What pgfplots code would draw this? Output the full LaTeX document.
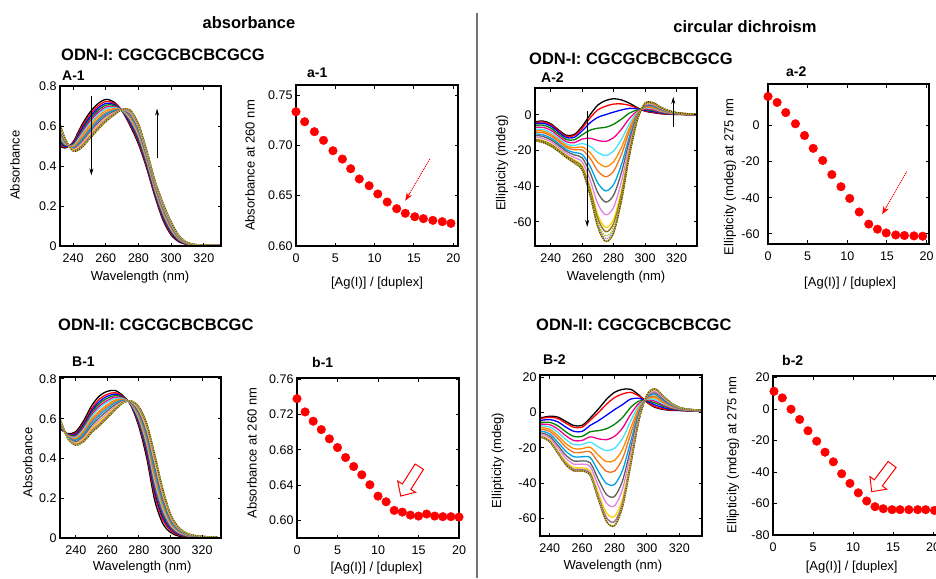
\documentclass[border=0pt]{standalone}
\usepackage{fontspec}
\setmainfont{Liberation Sans}
\usepackage{pgfplots}
\pgfplotsset{compat=1.18}
\usepackage{pgfplotstable}
\usetikzlibrary{arrows.meta}

\definecolor{cR}{RGB}{255,0,0}
\definecolor{cB}{RGB}{0,0,255}
\definecolor{cG}{RGB}{0,128,0}
\definecolor{cP}{RGB}{240,0,140}
\definecolor{cC}{RGB}{70,225,255}
\definecolor{cO}{RGB}{255,140,0}
\definecolor{cOt}{RGB}{240,115,25}
\definecolor{cS}{RGB}{0,160,230}
\definecolor{cGr}{RGB}{96,96,96}
\definecolor{cV}{RGB}{225,130,225}
\definecolor{cY}{RGB}{255,210,0}
\definecolor{cOl}{RGB}{140,110,30}
\definecolor{cL}{RGB}{150,215,30}
\definecolor{cPu}{RGB}{170,120,220}
\definecolor{cBr}{RGB}{128,0,0}

\pgfplotscreateplotcyclelist{spec}{
{black},{cR},{cB},{cG},{cP},{cC},{cO},{cOt},{cS},{cGr},{cV},{cY},{cOl},{cL,densely dotted},{cPu,densely dotted},{cBr}}

% UV spectra, ODN-I (A-1)
\pgfplotstableread{
wl c0 c1 c2 c3 c4 c5 c6 c7 c8 c9 c10 c11 c12 c13
230 0.510 0.524 0.537 0.549 0.563 0.573 0.587 0.600 0.609 0.621 0.632 0.641 0.650 0.660
235 0.490 0.495 0.499 0.503 0.508 0.511 0.516 0.520 0.523 0.527 0.531 0.534 0.537 0.540
240 0.520 0.516 0.512 0.508 0.504 0.501 0.497 0.493 0.490 0.487 0.484 0.481 0.478 0.475
245 0.600 0.590 0.580 0.571 0.562 0.554 0.544 0.534 0.527 0.519 0.511 0.504 0.498 0.490
250 0.665 0.653 0.642 0.631 0.620 0.610 0.599 0.587 0.579 0.569 0.560 0.552 0.544 0.535
255 0.710 0.698 0.687 0.676 0.665 0.655 0.644 0.632 0.624 0.614 0.605 0.597 0.589 0.580
260 0.733 0.723 0.713 0.704 0.694 0.686 0.676 0.666 0.660 0.651 0.643 0.636 0.630 0.622
265 0.720 0.714 0.708 0.703 0.697 0.693 0.687 0.681 0.677 0.672 0.667 0.663 0.660 0.655
270 0.675 0.676 0.676 0.677 0.678 0.678 0.679 0.680 0.680 0.681 0.681 0.682 0.682 0.683
275 0.600 0.607 0.614 0.621 0.628 0.634 0.641 0.648 0.653 0.659 0.665 0.670 0.674 0.680
280 0.510 0.519 0.528 0.536 0.545 0.552 0.561 0.570 0.576 0.584 0.591 0.597 0.603 0.610
285 0.390 0.398 0.406 0.413 0.422 0.428 0.436 0.444 0.449 0.457 0.463 0.468 0.474 0.480
290 0.250 0.257 0.264 0.271 0.278 0.284 0.291 0.298 0.303 0.309 0.315 0.320 0.324 0.330
295 0.130 0.138 0.145 0.152 0.160 0.166 0.173 0.181 0.186 0.193 0.199 0.204 0.209 0.215
300 0.055 0.061 0.067 0.072 0.078 0.082 0.088 0.094 0.098 0.103 0.108 0.112 0.116 0.120
305 0.020 0.023 0.025 0.028 0.031 0.033 0.035 0.038 0.040 0.042 0.044 0.046 0.048 0.050
310 0.007 0.008 0.009 0.010 0.011 0.011 0.012 0.013 0.014 0.014 0.015 0.016 0.016 0.017
315 0.002 0.002 0.003 0.003 0.004 0.004 0.005 0.005 0.005 0.006 0.006 0.006 0.007 0.007
320 0.000 0.000 0.001 0.001 0.002 0.002 0.003 0.003 0.003 0.004 0.004 0.004 0.005 0.005
325 0.000 0.000 0.001 0.001 0.001 0.002 0.002 0.002 0.003 0.003 0.003 0.003 0.004 0.004
330 0.000 0.000 0.001 0.001 0.001 0.001 0.002 0.002 0.002 0.002 0.002 0.003 0.003 0.003
}\Aone

% UV spectra, ODN-II (B-1)
\pgfplotstableread{
wl c0 c1 c2 c3 c4 c5 c6 c7 c8 c9 c10 c11 c12 c13
230 0.550 0.556 0.560 0.563 0.567 0.571 0.575 0.579 0.582 0.587 0.591 0.594 0.597 0.600
235 0.525 0.522 0.520 0.519 0.517 0.515 0.513 0.511 0.509 0.507 0.505 0.503 0.502 0.500
240 0.535 0.528 0.522 0.517 0.512 0.507 0.501 0.496 0.492 0.485 0.479 0.476 0.471 0.467
245 0.590 0.578 0.570 0.563 0.554 0.547 0.538 0.530 0.523 0.513 0.504 0.499 0.491 0.485
250 0.665 0.650 0.639 0.630 0.619 0.610 0.598 0.588 0.579 0.566 0.554 0.548 0.538 0.530
255 0.715 0.699 0.687 0.676 0.664 0.654 0.640 0.630 0.619 0.606 0.592 0.585 0.574 0.565
260 0.738 0.723 0.713 0.703 0.692 0.683 0.671 0.662 0.652 0.640 0.628 0.621 0.612 0.604
265 0.742 0.731 0.724 0.717 0.709 0.702 0.694 0.687 0.680 0.671 0.663 0.658 0.651 0.645
270 0.715 0.711 0.708 0.706 0.703 0.701 0.698 0.695 0.693 0.689 0.686 0.685 0.682 0.680
275 0.665 0.668 0.670 0.672 0.674 0.675 0.678 0.679 0.681 0.683 0.686 0.687 0.689 0.690
280 0.560 0.571 0.579 0.586 0.594 0.601 0.610 0.617 0.624 0.633 0.642 0.647 0.654 0.660
285 0.400 0.419 0.433 0.446 0.460 0.472 0.488 0.500 0.512 0.528 0.544 0.552 0.565 0.575
290 0.190 0.215 0.234 0.250 0.268 0.284 0.305 0.321 0.337 0.358 0.379 0.390 0.406 0.420
295 0.075 0.094 0.108 0.121 0.135 0.147 0.163 0.175 0.187 0.203 0.219 0.227 0.240 0.250
300 0.028 0.038 0.046 0.052 0.059 0.066 0.074 0.080 0.087 0.095 0.103 0.108 0.115 0.120
305 0.010 0.015 0.019 0.022 0.025 0.029 0.033 0.036 0.039 0.043 0.047 0.049 0.052 0.055
310 0.004 0.006 0.008 0.009 0.011 0.013 0.015 0.016 0.017 0.019 0.021 0.022 0.024 0.025
315 0.002 0.003 0.004 0.005 0.006 0.007 0.008 0.008 0.009 0.010 0.011 0.012 0.012 0.013
320 0.001 0.002 0.002 0.003 0.003 0.004 0.005 0.005 0.005 0.006 0.007 0.007 0.008 0.008
325 0.000 0.001 0.001 0.002 0.002 0.002 0.003 0.003 0.004 0.004 0.005 0.005 0.006 0.006
330 0.000 0.001 0.001 0.001 0.002 0.002 0.003 0.003 0.003 0.004 0.004 0.004 0.005 0.005
}\Bone

% CD spectra, ODN-I (A-2)
\pgfplotstableread{
wl c0 c1 c2 c3 c4 c5 c6 c7 c8 c9 c10 c11 c12 c13 c14 c15
230 -4.0 -4.4 -5.1 -6.0 -7.1 -8.1 -8.9 -9.7 -10.7 -11.6 -12.5 -13.5 -13.8 -14.1 -14.3 -14.5
235 -3.5 -4.0 -4.7 -5.8 -7.0 -8.2 -9.1 -10.0 -11.2 -12.1 -13.2 -14.3 -14.7 -15.0 -15.3 -15.5
240 -5.0 -5.5 -6.3 -7.4 -8.6 -9.9 -10.9 -11.8 -13.0 -14.0 -15.1 -16.3 -16.6 -17.0 -17.3 -17.5
245 -8.5 -9.0 -9.7 -10.8 -12.0 -13.2 -14.1 -15.0 -16.2 -17.1 -18.2 -19.3 -19.7 -20.0 -20.3 -20.5
250 -11.5 -12.0 -12.8 -13.9 -15.1 -16.4 -17.4 -18.3 -19.5 -20.5 -21.6 -22.8 -23.1 -23.5 -23.8 -24.0
255 -11.0 -11.6 -12.6 -14.0 -15.6 -17.2 -18.5 -19.6 -21.2 -22.5 -24.0 -25.4 -25.9 -26.4 -26.7 -27.0
260 -6.5 -7.5 -9.0 -11.2 -13.6 -16.1 -18.0 -19.7 -22.2 -24.1 -26.4 -28.6 -29.3 -30.0 -30.5 -31.0
265 0.0 -1.8 -4.5 -8.6 -13.1 -17.6 -21.2 -24.3 -28.8 -32.4 -36.5 -40.5 -41.9 -43.2 -44.1 -45.0
270 5.5 2.8 -1.4 -7.5 -14.4 -21.2 -26.7 -31.5 -38.3 -43.8 -50.0 -56.2 -58.2 -60.3 -61.6 -63.0
275 8.0 4.8 0.1 -7.0 -14.9 -22.8 -29.1 -34.7 -42.6 -48.9 -56.0 -63.1 -65.5 -67.8 -69.4 -71.0
280 9.0 6.0 1.5 -5.3 -12.8 -20.3 -26.3 -31.5 -39.0 -45.0 -51.8 -58.5 -60.8 -63.0 -64.5 -66.0
285 8.3 6.1 2.7 -2.4 -8.0 -13.7 -18.2 -22.1 -27.7 -32.2 -37.3 -42.4 -44.1 -45.8 -46.9 -48.0
290 6.5 5.3 3.6 0.9 -2.1 -5.0 -7.4 -9.4 -12.4 -14.7 -17.4 -20.1 -20.9 -21.8 -22.4 -23.0
295 4.0 3.7 3.3 2.7 2.0 1.3 0.7 0.2 -0.5 -1.0 -1.7 -2.3 -2.5 -2.7 -2.9 -3.0
300 2.0 2.2 2.5 2.9 3.3 3.8 4.1 4.4 4.9 5.2 5.7 6.1 6.2 6.3 6.4 6.5
305 1.2 1.4 1.8 2.3 2.8 3.4 3.8 4.2 4.8 5.2 5.7 6.2 6.4 6.6 6.7 6.8
310 0.6 0.7 1.0 1.3 1.6 2.0 2.3 2.5 2.9 3.2 3.5 3.8 4.0 4.1 4.1 4.2
315 0.3 0.4 0.5 0.7 0.9 1.1 1.2 1.4 1.6 1.7 1.9 2.1 2.2 2.2 2.3 2.3
320 0.2 0.2 0.3 0.4 0.5 0.6 0.7 0.7 0.8 0.9 1.0 1.1 1.1 1.2 1.2 1.2
325 0.1 0.1 0.2 0.2 0.3 0.3 0.4 0.4 0.5 0.5 0.6 0.6 0.7 0.7 0.7 0.7
330 0.0 0.0 0.1 0.1 0.1 0.2 0.2 0.3 0.3 0.4 0.4 0.5 0.5 0.5 0.5 0.5
335 0.0 0.0 0.1 0.1 0.1 0.2 0.2 0.3 0.3 0.4 0.4 0.5 0.5 0.5 0.5 0.5
}\Atwo

% CD spectra, ODN-II (B-2)
\pgfplotstableread{
wl c0 c1 c2 c3 c4 c5 c6 c7 c8 c9 c10 c11 c12 c13
230 -2.8 -3.2 -4.3 -5.5 -6.5 -7.5 -8.5 -9.4 -10.5 -11.5 -12.3 -13.2 -13.7 -14.0
235 -2.8 -3.2 -4.3 -5.5 -6.5 -7.5 -8.5 -9.4 -10.5 -11.5 -12.3 -13.2 -13.7 -14.0
240 -2.0 -2.6 -3.9 -5.5 -6.8 -8.1 -9.4 -10.6 -12.0 -13.3 -14.3 -15.5 -16.1 -16.5
245 -2.5 -3.3 -5.2 -7.4 -9.3 -11.1 -13.0 -14.6 -16.7 -18.5 -19.9 -21.6 -22.4 -23.0
250 -5.0 -6.0 -8.2 -10.9 -13.1 -15.3 -17.5 -19.5 -21.9 -24.1 -25.8 -27.8 -28.8 -29.5
255 -7.3 -8.3 -10.6 -13.5 -15.8 -18.1 -20.4 -22.5 -25.0 -27.4 -29.2 -31.2 -32.2 -33.0
260 -7.2 -8.2 -10.6 -13.4 -15.7 -18.0 -20.4 -22.4 -25.0 -27.3 -29.1 -31.2 -32.2 -33.0
265 -3.0 -4.3 -7.2 -10.8 -13.7 -16.7 -19.6 -22.2 -25.4 -28.4 -30.6 -33.2 -34.5 -35.5
270 2.0 0.0 -4.6 -10.2 -14.8 -19.4 -24.0 -28.1 -33.2 -37.8 -41.4 -45.4 -47.5 -49.0
275 7.5 4.7 -1.5 -9.1 -15.3 -21.5 -27.7 -33.2 -40.1 -46.3 -51.2 -56.7 -59.4 -61.5
280 11.5 8.5 1.7 -6.6 -13.4 -20.2 -27.0 -33.1 -40.6 -47.4 -52.7 -58.7 -61.7 -64.0
285 13.2 10.6 4.6 -2.7 -8.6 -14.6 -20.6 -25.9 -32.5 -38.4 -43.1 -48.4 -51.0 -53.0
290 13.2 11.5 7.7 3.0 -0.9 -4.7 -8.6 -12.0 -16.3 -20.1 -23.1 -26.5 -28.2 -29.5
295 10.0 9.4 8.1 6.5 5.2 3.9 2.6 1.4 0.0 -1.3 -2.3 -3.5 -4.1 -4.5
300 5.8 6.0 6.4 6.8 7.2 7.6 7.9 8.3 8.7 9.1 9.4 9.7 9.9 10.0
305 3.0 3.4 4.4 5.5 6.5 7.4 8.4 9.2 10.3 11.2 11.9 12.8 13.2 13.5
310 1.8 2.1 2.8 3.7 4.3 5.0 5.7 6.3 7.1 7.8 8.4 9.0 9.3 9.5
315 1.3 1.5 1.9 2.3 2.7 3.1 3.4 3.8 4.2 4.6 4.9 5.2 5.4 5.5
320 1.2 1.3 1.4 1.6 1.8 2.0 2.1 2.3 2.4 2.6 2.7 2.9 2.9 3.0
325 1.0 1.0 1.1 1.2 1.3 1.4 1.5 1.6 1.7 1.8 1.9 1.9 2.0 2.0
330 0.8 0.8 0.9 1.0 1.1 1.1 1.2 1.3 1.4 1.4 1.5 1.5 1.6 1.6
335 0.6 0.6 0.7 0.8 0.9 0.9 1.0 1.1 1.2 1.2 1.3 1.3 1.4 1.4
}\Btwo

% titrations
\pgfplotstableread{
x y
0 0.7334
1.1 0.7235
2.34 0.7136
3.5 0.7050
4.7 0.6947
5.9 0.6864
6.95 0.6768
8.05 0.6666
9.3 0.6599
10.4 0.6517
11.6 0.6437
12.8 0.6371
13.9 0.6325
15.1 0.6291
16.2 0.6272
17.4 0.6255
18.6 0.6242
19.7 0.6225
}\aone
\pgfplotstableread{
x y
0 16.0
1.15 12.7
2.24 7.1
3.46 0.9
4.6 -5.6
5.7 -12.7
6.9 -19.4
8.05 -27.2
9.2 -33.9
10.3 -40.4
11.5 -47.9
12.7 -54.6
13.8 -57.4
14.9 -59.5
16.1 -60.6
17.2 -60.9
18.4 -61.1
19.5 -61.3
}\atwo
\pgfplotstableread{
x y
0 0.7381
1 0.7230
2 0.7125
3 0.7030
4 0.6925
5 0.6826
6 0.6713
7 0.6611
8 0.6517
9 0.6404
10 0.6275
11 0.6211
12 0.6113
13 0.6094
14 0.6060
15 0.6049
16 0.6072
17 0.6049
18 0.6042
19 0.6042
20 0.6038
}\bone
\pgfplotstableread{
x y
0.12 11.3
1.16 7.1
2.25 -0.1
3.33 -6.6
4.37 -13.8
5.46 -20.4
6.5 -27.4
7.54 -33.5
8.58 -41.1
9.62 -47.2
10.66 -53.2
11.71 -58.4
12.75 -62.0
13.78 -63.3
14.88 -63.9
15.88 -63.9
16.98 -63.9
18.08 -63.9
19.08 -63.9
20.18 -64.4
}\btwo

\pgfplotsset{
  panel/.style={scale only axis, anchor=north west, axis on top,
    axis line style={line width=2.4pt, line cap=rect},
    tick align=inside, major tick length=3.5pt, minor tick num=0,
    every tick/.style={black, line width=1pt},
    tick label style={font=\fontsize{12.5}{14}\selectfont},
    xticklabel style={yshift=-4.5pt},
    label style={font=\fontsize{13}{15}\selectfont, inner sep=0pt},
    /pgf/number format/assume math mode=true},
  spec/.style={panel, no markers, cycle list name=spec,
    every axis plot/.append style={smooth, line width=1.3pt},
    xtick={240,260,...,320}, xlabel={Wavelength (nm)}},
  titr/.style={panel, xtick={0,5,10,15,20}, xlabel={[Ag(I)] / [duplex]}},
  dots/.style={only marks, mark=*, mark size=4.3pt, mark options={fill=cR, draw=cR}},
}
\newcommand\hdr{\fontsize{16.5}{19}\selectfont\bfseries}
\newcommand\plab{\fontsize{14}{16}\selectfont\bfseries}

\begin{document}
\begin{tikzpicture}
\useasboundingbox (0pt,0pt) rectangle (936pt,-578pt);
\fill[white] (0pt,0pt) rectangle (936pt,-578pt);

% headers
\node[font=\hdr] at (249pt,-23pt) {absorbance};
\node[font=\hdr] at (745pt,-27pt) {circular dichroism};
\draw[line width=1.3pt, black!55] (477pt,-13pt) -- (477pt,-578pt);
\node[font=\hdr, anchor=west, inner sep=0pt] at (61pt,-55pt) {ODN-I: CGCGCBCBCGCG};
\node[font=\hdr, anchor=west, inner sep=0pt] at (529pt,-59pt) {ODN-I: CGCGCBCBCGCG};
\node[font=\hdr, anchor=west, inner sep=0pt] at (58pt,-325pt) {ODN-II: CGCGCBCBCGC};
\node[font=\hdr, anchor=west, inner sep=0pt] at (536pt,-325pt) {ODN-II: CGCGCBCBCGC};
\node[font=\plab, anchor=west, inner sep=0pt] at (62pt,-76pt) {A-1};
\node[font=\plab, anchor=west, inner sep=0pt] at (307pt,-73pt) {a-1};
\node[font=\plab, anchor=west, inner sep=0pt] at (541pt,-78pt) {A-2};
\node[font=\plab, anchor=west, inner sep=0pt] at (786pt,-72pt) {a-2};
\node[font=\plab, anchor=west, inner sep=0pt] at (72pt,-362pt) {B-1};
\node[font=\plab, anchor=west, inner sep=0pt] at (312pt,-362pt) {b-1};
\node[font=\plab, anchor=west, inner sep=0pt] at (543pt,-360pt) {B-2};
\node[font=\plab, anchor=west, inner sep=0pt] at (782pt,-360pt) {b-2};

% A-1
\begin{axis}[spec, at={(60pt,-86pt)}, width=161pt, height=160pt,
  xmin=232, xmax=330.5, ymin=0, ymax=0.8, ytick={0,0.2,0.4,0.6,0.8},
  xlabel style={at={(axis description cs:0.497,-0.194)}, anchor=center},
  ylabel={Absorbance}, ylabel style={at={(axis description cs:-0.28,0.506)}, anchor=center}]
\pgfplotsinvokeforeach{0,...,12}{\addplot table[x=wl,y=c#1]{\Aone};}
\addplot[cBr] table[x=wl,y=c13]{\Aone};
\addplot[cPu, densely dotted] table[x=wl,y=c12]{\Aone};
\addplot[cL, densely dotted] table[x=wl,y=c13]{\Aone};
\draw[black, line width=0.8pt, -{Stealth[length=7pt,width=4pt]}] (axis cs:251.2,0.748) -- (axis cs:251.2,0.353);
\draw[black, line width=0.8pt, -{Stealth[length=7pt,width=4pt]}] (axis cs:291.4,0.442) -- (axis cs:291.4,0.687);
\end{axis}

% a-1
\begin{axis}[titr, at={(296pt,-85pt)}, width=162pt, height=161pt,
  xmin=0, xmax=20.6, ymin=0.60, ymax=0.76, ytick={0.60,0.65,0.70,0.75},
  yticklabel style={/pgf/number format/.cd, fixed, fixed zerofill, precision=2},
  xlabel style={at={(axis description cs:0.5,-0.23)}, anchor=center},
  ylabel={Absorbance at 260 nm}, ylabel style={at={(axis description cs:-0.284,0.5)}, anchor=center}]
\addplot[dots] table[x=x,y=y]{\aone};
\draw[cR, line width=1pt, densely dotted] (axis cs:17.0,0.6864) -- (axis cs:14.35,0.6510);
\draw[cR, line width=0.6pt, -{Stealth[length=8pt,width=6pt]}] (axis cs:14.5,0.653) -- (axis cs:13.9,0.6450);
\end{axis}

% A-2
\begin{axis}[spec, at={(535pt,-88pt)}, width=162pt, height=158pt,
  xmin=230, xmax=333, ymin=-73.5, ymax=15, ytick={-60,-40,-20,0},
  xlabel style={at={(axis description cs:0.5,-0.196)}, anchor=center},
  ylabel={Ellipticity (mdeg)}, ylabel style={at={(axis description cs:-0.204,0.525)}, anchor=center}]
\pgfplotsinvokeforeach{0,...,15}{\addplot table[x=wl,y=c#1]{\Atwo};}
\addplot[cL, densely dotted, line width=1.3pt, smooth] table[x=wl,y=c15]{\Atwo};
\draw[black, line width=0.8pt, -{Stealth[length=7pt,width=4pt]}] (axis cs:263.2,1.9) -- (axis cs:263.2,-62.8);
\draw[black, line width=0.8pt, -{Stealth[length=7pt,width=4pt]}] (axis cs:317.9,-7.1) -- (axis cs:317.9,10);
\end{axis}

% a-2
\begin{axis}[titr, at={(768pt,-84pt)}, width=161pt, height=160pt,
  xmin=0, xmax=20.3, ymin=-65.6, ymax=22.9, ytick={-60,-40,-20,0},
  yticklabel style={xshift=-5pt},
  xlabel style={at={(axis description cs:0.51,-0.244)}, anchor=center},
  ylabel={Ellipticity (mdeg) at 275 nm}, ylabel style={at={(axis description cs:-0.236,0.42)}, anchor=center, fill=white, inner sep=1pt}]
\addplot[dots] table[x=x,y=y]{\atwo};
\draw[cR, line width=1pt, densely dotted] (axis cs:17.5,-25.5) -- (axis cs:14.9,-45.3);
\draw[cR, line width=0.6pt, -{Stealth[length=8pt,width=6pt]}] (axis cs:15.0,-44.5) -- (axis cs:14.4,-49.2);
\end{axis}

% B-1
\begin{axis}[spec, at={(60pt,-377pt)}, width=161pt, height=161pt,
  xmin=230, xmax=332, ymin=0, ymax=0.81, ytick={0,0.2,0.4,0.6,0.8},
  xticklabel style={yshift=0pt},
  xlabel style={at={(axis description cs:0.51,-0.18)}, anchor=center},
  ylabel={Absorbance}, ylabel style={at={(axis description cs:-0.2,0.47)}, anchor=center}]
\pgfplotsinvokeforeach{0,...,12}{\addplot table[x=wl,y=c#1]{\Bone};}
\addplot[cBr] table[x=wl,y=c13]{\Bone};
\addplot[cPu, densely dotted] table[x=wl,y=c12]{\Bone};
\addplot[cL, densely dotted] table[x=wl,y=c13]{\Bone};
\end{axis}

% b-1
\begin{axis}[titr, at={(297pt,-378pt)}, width=162pt, height=160pt,
  xmin=0, xmax=20, ymin=0.58, ymax=0.7615, ytick={0.60,0.64,0.68,0.72,0.76},
  yticklabel style={/pgf/number format/.cd, fixed, fixed zerofill, precision=2},
  xlabel style={at={(axis description cs:0.49,-0.1875)}, anchor=center},
  ylabel={Absorbance at 260 nm}, ylabel style={at={(axis description cs:-0.278,0.53)}, anchor=center}]
\addplot[dots] table[x=x,y=y]{\bone};
\end{axis}

% B-2
\begin{axis}[spec, at={(540pt,-375pt)}, width=162pt, height=161pt,
  xmin=234, xmax=334, ymin=-69.8, ymax=21.3, ytick={-60,-40,-20,0,20},
  xlabel style={at={(axis description cs:0.45,-0.186)}, anchor=center},
  ylabel={Ellipticity (mdeg)}, ylabel style={at={(axis description cs:-0.26,0.47)}, anchor=center}]
\pgfplotsinvokeforeach{0,...,12}{\addplot table[x=wl,y=c#1]{\Btwo};}
\addplot[cBr] table[x=wl,y=c13]{\Btwo};
\addplot[cPu, densely dotted] table[x=wl,y=c12]{\Btwo};
\addplot[cL, densely dotted] table[x=wl,y=c13]{\Btwo};
\end{axis}

% b-2
\begin{axis}[titr, at={(773pt,-376pt)}, width=166.4pt, height=159pt,
  xmin=0, xmax=20.8, ymin=-80, ymax=21, ytick={-80,-60,-40,-20,0,20},
  xlabel style={at={(axis description cs:0.473,-0.2)}, anchor=center},
  ylabel={Ellipticity (mdeg) at 275 nm}, ylabel style={at={(axis description cs:-0.24,0.503)}, anchor=center}]
\addplot[dots] table[x=x,y=y]{\btwo};
\end{axis}

% hollow block arrows (b-1 and b-2)
\draw[cR, line width=1pt, line join=miter, fill=white]
  (415.1pt,-464.0pt) -- (402.4pt,-484.0pt) -- (397.7pt,-481.1pt) -- (400.7pt,-496.0pt)
  -- (415.5pt,-492.3pt) -- (410.8pt,-489.4pt) -- (423.5pt,-469.4pt) -- cycle;
\draw[cR, line width=1pt, line join=miter, fill=white]
  (888.1pt,-461.5pt) -- (874.3pt,-479.9pt) -- (869.9pt,-476.6pt) -- (871.7pt,-491.7pt)
  -- (886.7pt,-489.2pt) -- (882.3pt,-485.9pt) -- (896.1pt,-467.5pt) -- cycle;
\end{tikzpicture}
\end{document}
